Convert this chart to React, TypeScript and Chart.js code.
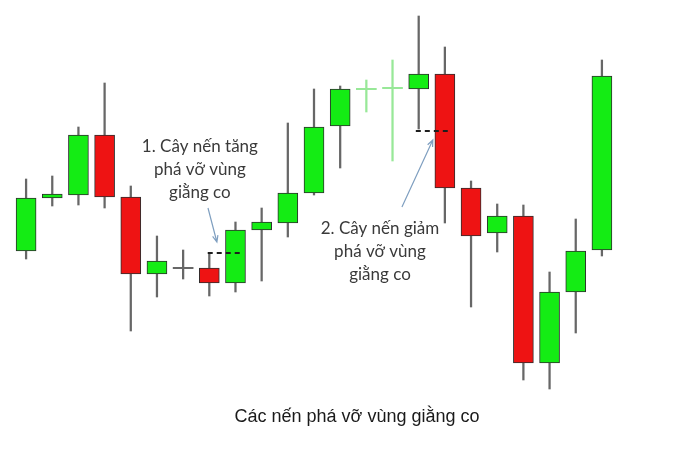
import { useEffect, useRef } from 'react'
import { Chart, registerables, ChartConfiguration, Plugin } from 'chart.js'

Chart.register(...registerables)

// one entry per candle, left to right
const labels = ['1', '2', '3', '4', '5', '6', '7', '8', '9', '10', '11', '12', '13', '14', '15', '16', '17', '18', '19', '20', '21', '22', '23']
const opens = [149, 202, 205, 265, 203, 126, 132, 132, 117, 170, 177, 207, 274, 311, 312, 311, 326, 212, 167, 184, 37, 108, 150]
const highs = [221, 224, 273, 317, 214, 164, 150, 146, 178, 192, 277, 311, 314, 320, 340, 384, 353, 219, 196, 195, 128, 181, 340]
const lows = [141, 194, 195, 192, 69, 103, 121, 104, 108, 119, 163, 205, 232, 288, 239, 271, 177, 93, 148, 20, 11, 67, 144]
const closes = [202, 206, 265, 203, 126, 139, 132, 117, 170, 178, 207, 273, 311, 311, 312, 326, 212, 164, 184, 37, 108, 149, 324]

// candles drawn washed out (the consolidation crosses)
const fadedCandles = [13, 14]

const breakoutLevels = [147, 269]
const noteBullish = ['1. Cây nến tăng', 'phá vỡ vùng', 'giằng co']
const noteBearish = ['2. Cây nến giảm', 'phá vỡ vùng', 'giằng co']
const caption = 'Các nến phá vỡ vùng giằng co'

const UP = '#14ec14'
const DOWN = '#ee1313'
const WICK = '#676767'
const FADED = '#98e898'

// annotation layout, in candle index / price units
const notes = [
  { lines: noteBullish, x: 6.64, y: 248, from: [6.95, 192], to: [7.29, 158], level: breakoutLevels[0], span: [6.94, 8.17] },
  { lines: noteBearish, x: 13.52, y: 166, from: [14.36, 193], to: [15.54, 260], level: breakoutLevels[1], span: [14.89, 16.11] },
]

const annotations: Plugin<'bar'> = {
  id: 'annotations',
  afterDatasetsDraw(chart) {
    const { ctx, scales } = chart
    const x = scales.x
    const y = scales.y
    ctx.save()
    notes.forEach((n) => {
      // breakout level
      ctx.strokeStyle = '#1e1e1e'
      ctx.lineWidth = 2
      ctx.setLineDash([5, 4])
      ctx.beginPath()
      ctx.moveTo(x.getPixelForValue(n.span[0]), y.getPixelForValue(n.level))
      ctx.lineTo(x.getPixelForValue(n.span[1]), y.getPixelForValue(n.level))
      ctx.stroke()
      ctx.setLineDash([])

      // text
      ctx.fillStyle = '#3a3a3a'
      ctx.font = '17px Lato'
      ctx.textAlign = 'center'
      ctx.textBaseline = 'alphabetic'
      const cx = x.getPixelForValue(n.x)
      const base = y.getPixelForValue(n.y)
      n.lines.forEach((t, i) => ctx.fillText(t, cx, base + i * 23))

      // arrow
      const x1 = x.getPixelForValue(n.from[0])
      const y1 = y.getPixelForValue(n.from[1])
      const x2 = x.getPixelForValue(n.to[0])
      const y2 = y.getPixelForValue(n.to[1])
      const a = Math.atan2(y2 - y1, x2 - x1)
      ctx.strokeStyle = '#7f9fc0'
      ctx.lineWidth = 1.2
      ctx.beginPath()
      ctx.moveTo(x1, y1)
      ctx.lineTo(x2, y2)
      ctx.moveTo(x2 - 7 * Math.cos(a - 0.4), y2 - 7 * Math.sin(a - 0.4))
      ctx.lineTo(x2, y2)
      ctx.lineTo(x2 - 7 * Math.cos(a + 0.4), y2 - 7 * Math.sin(a + 0.4))
      ctx.stroke()
    })
    ctx.restore()
  },
}

export default function App() {
  const chartRef = useRef<HTMLCanvasElement>(null)
  const chartInstance = useRef<Chart | null>(null)

  useEffect(() => {
    if (!chartRef.current) return
    if (chartInstance.current) chartInstance.current.destroy()

    const isDoji = opens.map((o, i) => o === closes[i])
    const bodyColors = opens.map((o, i) => {
      if (fadedCandles.includes(i)) return FADED
      if (isDoji[i]) return WICK
      return closes[i] > o ? UP : DOWN
    })
    const wickColors = opens.map((_, i) => (fadedCandles.includes(i) ? FADED : WICK))

    const config: ChartConfiguration<'bar'> = {
      type: 'bar',
      data: {
        labels,
        datasets: [
          {
            label: 'body',
            data: opens.map((o, i) =>
              isDoji[i] ? [o - 0.7, o + 0.7] : [Math.min(o, closes[i]), Math.max(o, closes[i])]
            ) as any,
            backgroundColor: bodyColors,
            borderColor: '#2e2e2e',
            borderWidth: isDoji.map((d) => (d ? 0 : 1)),
            borderSkipped: false,
            barThickness: 20,
            grouped: false,
            order: 0,
          },
          {
            label: 'wick',
            data: lows.map((l, i) => [l, highs[i]]) as any,
            backgroundColor: wickColors,
            borderWidth: 0,
            barThickness: 1.6,
            grouped: false,
            order: 1,
          },
        ],
      },
      options: {
        responsive: false,
        animation: false,
        layout: { padding: { left: 13, right: 60, top: 0, bottom: 61 } },
        scales: {
          x: { display: false },
          y: { display: false, min: 0, max: 400 },
        },
        plugins: {
          legend: { display: false },
          tooltip: { enabled: false },
        },
      },
      plugins: [annotations],
    }

    chartInstance.current = new Chart(chartRef.current, config)

    return () => {
      if (chartInstance.current) {
        chartInstance.current.destroy()
        chartInstance.current = null
      }
    }
  }, [])

  return (
    <div style={{ position: 'absolute', left: 0, top: 0, width: 675, height: 461, background: '#fff' }}>
      <canvas ref={chartRef} width={675} height={461} style={{ display: 'block' }} />
      <div
        style={{
          position: 'absolute',
          left: 357,
          top: 406,
          transform: 'translateX(-50%)',
          whiteSpace: 'nowrap',
          font: '18px "Liberation Sans", Arial, sans-serif',
          lineHeight: '20px',
          color: '#1a1a1a',
        }}
      >
        {caption}
      </div>
    </div>
  )
}
